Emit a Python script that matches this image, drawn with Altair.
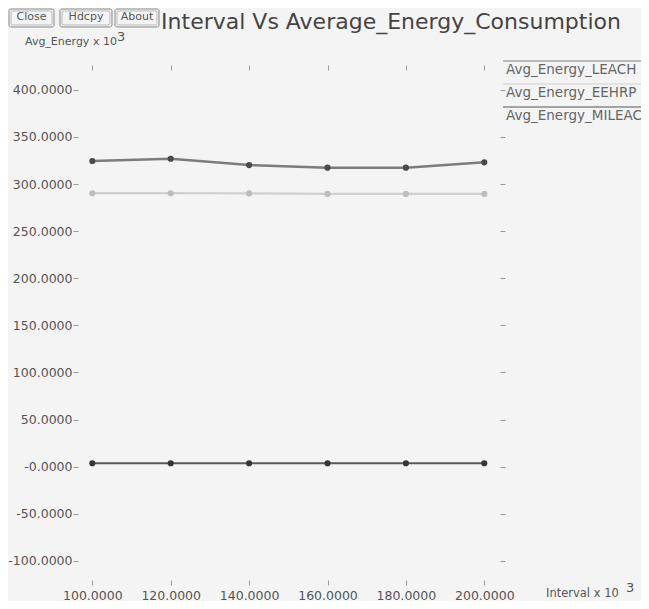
import altair as alt
import pandas as pd

# ---------------- data ----------------
interval = [100, 120, 140, 160, 180, 200]
series = ["Avg_Energy_LEACH", "Avg_Energy_EEHRP", "Avg_Energy_MILEAC"]
leach = [324.5, 326.9, 320.2, 317.4, 317.4, 323.1]
eehrp = [290.3, 290.3, 290.1, 289.6, 289.6, 289.6]
mileac = [3.6, 3.6, 3.6, 3.6, 3.6, 3.6]
x_ticks = [100, 120, 140, 160, 180, 200]
y_ticks = [-100, -50, 0, 50, 100, 150, 200, 250, 300, 350, 400]
title_text = "Interval Vs Average_Energy_Consumption"
y_title = "Avg_Energy x 10"
x_title = "Interval x 10"
exponent = "3"
buttons = ["Close", "Hdcpy", "About"]

rows = []
for name, vals in zip(series, [leach, eehrp, mileac]):
    for xv, v in zip(interval, vals):
        rows.append({"interval": xv, "energy": v, "series": name})
df = pd.DataFrame(rows)
leg = pd.DataFrame({"series": series})
one = pd.DataFrame({"k": [0]})

# ---------------- style ----------------
FONT = "DejaVu Sans"
W, H = 423, 516
XDOM = [96.86, 204.77]
YDOM = [-123.5, 424.3]
line_colors = ["#7c7c7c", "#d0d0d0", "#5a5a5a"]
point_colors = ["#4a4a4a", "#bdbdbd", "#353535"]
legend_colors = ["#a8a8a8", "#dddddd", "#8a8a8a"]
widths = [2.6, 2.0, 3.0]
TXT = "#555555"
TICK = "#9a9a9a"

xs = alt.Scale(domain=XDOM, nice=False, zero=False)
ys = alt.Scale(domain=YDOM, nice=False, zero=False)
stroke = alt.Stroke("series:N", scale=alt.Scale(domain=series, range=line_colors), legend=None)

ylabel_expr = "datum.value <= 0 ? '-' + format(abs(datum.value), '.4f') : format(datum.value, '.4f')"

lines = alt.Chart(df).mark_line().encode(
    x=alt.X("interval:Q", scale=xs,
            axis=alt.Axis(orient="bottom", values=x_ticks, format=".4f", title=None,
                          domain=False, grid=False, tickSize=5, offset=-3, labelPadding=4)),
    y=alt.Y("energy:Q", scale=ys,
            axis=alt.Axis(orient="left", values=y_ticks, labelExpr=ylabel_expr, title=None,
                          domain=False, grid=False, tickSize=5, offset=2, labelPadding=1)),
    stroke=stroke,
    strokeWidth=alt.StrokeWidth("series:N", scale=alt.Scale(domain=series, range=widths), legend=None),
)

points = alt.Chart(df).mark_circle(size=38, opacity=1).encode(
    x=alt.X("interval:Q", scale=xs, axis=None),
    y=alt.Y("energy:Q", scale=ys, axis=None),
    fill=alt.Fill("series:N", scale=alt.Scale(domain=series, range=point_colors), legend=None),
)

frame_ticks = alt.Chart(df).mark_point(opacity=0).encode(
    x=alt.X("interval:Q", scale=xs,
            axis=alt.Axis(orient="top", values=x_ticks, labels=False, title=None,
                          domain=False, grid=False, tickSize=5, offset=-3)),
    y=alt.Y("energy:Q", scale=ys,
            axis=alt.Axis(orient="right", values=y_ticks, labels=False, title=None,
                          domain=False, grid=False, tickSize=5, offset=-3)),
)

leg_y = alt.Y("series:N", scale=alt.Scale(type="point", domain=series, range=[3, 49], padding=0), axis=None)
leg_rules = alt.Chart(leg).mark_rule(strokeWidth=1.5, yOffset=-9).encode(
    x=alt.value(423), x2=alt.value(572), y=leg_y,
    color=alt.Color("series:N", scale=alt.Scale(domain=series, range=legend_colors), legend=None),
)
leg_text = alt.Chart(leg).mark_text(align="left", baseline="middle", font=FONT, fontSize=13.5, color="#666666").encode(
    x=alt.value(426), y=leg_y, text="series:N",
)

title = alt.Chart(one).mark_text(
    text=title_text, align="center", baseline="alphabetic", font=FONT, fontSize=22, color="#444444"
).encode(x=alt.value(311), y=alt.value(-38))

deco = [
    alt.Chart(one).mark_text(text=y_title, align="left", baseline="middle", font=FONT, fontSize=11, color=TXT)
    .encode(x=alt.value(-55), y=alt.value(-25)),
    alt.Chart(one).mark_text(text=exponent, align="left", baseline="middle", font=FONT, fontSize=13, color=TXT)
    .encode(x=alt.value(37), y=alt.value(-30)),
    alt.Chart(one).mark_text(text=x_title, align="left", baseline="middle", font=FONT, fontSize=11.5, color=TXT)
    .encode(x=alt.value(466), y=alt.value(527)),
    alt.Chart(one).mark_text(text=exponent, align="left", baseline="middle", font=FONT, fontSize=13, color=TXT)
    .encode(x=alt.value(546), y=alt.value(521)),
]

btn_x = [(-71, -26), (-20, 32), (35, 79)]
for name, (bx0, bx1) in zip(buttons, btn_x):
    deco.append(
        alt.Chart(one).mark_rect(filled=False, stroke="#8a8a8a", strokeWidth=1, cornerRadius=2)
        .encode(x=alt.value(bx0), x2=alt.value(bx1), y=alt.value(-58), y2=alt.value(-40))
    )
    deco.append(
        alt.Chart(one).mark_rect(filled=False, stroke="#bbbbbb", strokeWidth=1, cornerRadius=1)
        .encode(x=alt.value(bx0 + 2), x2=alt.value(bx1 - 2), y=alt.value(-56), y2=alt.value(-42))
    )
    deco.append(
        alt.Chart(one).mark_text(text=name, align="center", baseline="middle", font=FONT, fontSize=11, color=TXT)
        .encode(x=alt.value((bx0 + bx1) / 2), y=alt.value(-50))
    )

chart = (
    alt.layer(lines, points, frame_ticks, leg_rules, leg_text, title, *deco)
    .properties(
        width=W,
        height=H,
        autosize=alt.AutoSizeParams(type="none"),
        padding={"left": 72, "top": 59, "right": 138, "bottom": 18},
    )
    .resolve_scale(y="independent")
    .resolve_axis(x="independent", y="independent")
    .configure(background="#f4f4f4")
    .configure_view(stroke=None)
    .configure_axis(labelFont=FONT, labelFontSize=12.5, labelColor=TXT, tickColor=TICK)
)

chart.save("out.html", embed_options={"renderer": "svg", "actions": False})
